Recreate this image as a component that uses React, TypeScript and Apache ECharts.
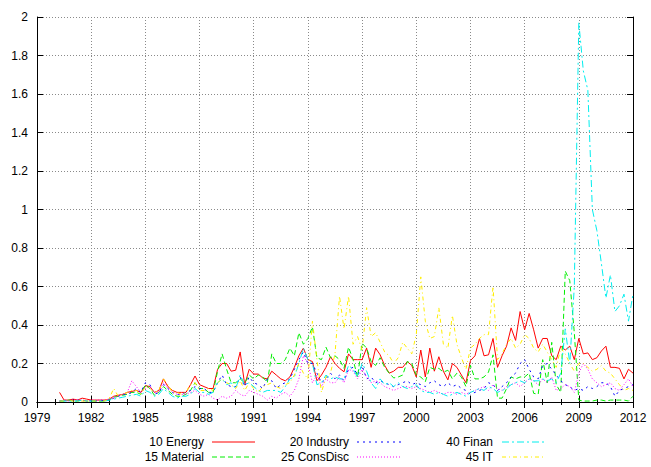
import React, { useEffect, useRef } from "react";
import * as echarts from "echarts";

// Quarterly observations, first point at 1980.25, step 0.25 year
const START_YEAR = 1980.25;
const STEP = 0.25;

const energy = [
  0.05, 0.01, 0.01, 0.015, 0.01, 0.02, 0.015, 0.01, 0.01, 0.01, 0.01, 0.015,
  0.03, 0.035, 0.04, 0.05, 0.055, 0.06, 0.05, 0.085, 0.08, 0.05, 0.06, 0.12,
  0.08, 0.06, 0.05, 0.05, 0.05, 0.09, 0.135, 0.09, 0.08, 0.07, 0.07, 0.17,
  0.2, 0.2, 0.16, 0.165, 0.26, 0.09, 0.17, 0.145, 0.145, 0.125, 0.12, 0.16,
  0.14, 0.12, 0.11, 0.13, 0.18, 0.24, 0.28, 0.22, 0.21, 0.11, 0.14, 0.18,
  0.235, 0.2, 0.175, 0.157, 0.25, 0.22, 0.22, 0.22, 0.28, 0.18, 0.28, 0.245,
  0.19, 0.15, 0.16, 0.18, 0.18, 0.21, 0.19, 0.13, 0.27, 0.13, 0.28, 0.16,
  0.235, 0.16, 0.115, 0.2, 0.18, 0.14, 0.1, 0.215, 0.24, 0.33, 0.24, 0.245,
  0.33, 0.18, 0.24, 0.29, 0.385, 0.32, 0.47, 0.375, 0.46, 0.375, 0.28, 0.33,
  0.33, 0.24, 0.22, 0.29, 0.27, 0.29, 0.22, 0.33, 0.25, 0.255, 0.22, 0.23,
  0.265, 0.29, 0.18, 0.18, 0.175, 0.12, 0.17, 0.15,
];

const material = [
  0.005, 0.005, 0.01, 0.005, 0.005, 0.01, 0.005, 0.005, 0.005, 0.005, 0.005, 0.01,
  0.025, 0.03, 0.035, 0.04, 0.05, 0.05, 0.04, 0.09, 0.07, 0.035, 0.05, 0.08,
  0.06, 0.04, 0.03, 0.03, 0.04, 0.06, 0.1, 0.07, 0.07, 0.05, 0.05, 0.16,
  0.25, 0.17, 0.1, 0.1, 0.12, 0.1, 0.14, 0.12, 0.14, 0.13, 0.1, 0.25,
  0.2, 0.2, 0.22, 0.28, 0.24, 0.36, 0.3, 0.33, 0.39, 0.23, 0.22, 0.285,
  0.23, 0.24, 0.22, 0.175, 0.285, 0.22, 0.13, 0.305, 0.28, 0.21, 0.19, 0.23,
  0.18, 0.15, 0.125, 0.13, 0.14, 0.21, 0.2, 0.14, 0.13, 0.105, 0.18, 0.17,
  0.175, 0.155, 0.165, 0.12, 0.15, 0.13, 0.08, 0.19, 0.12, 0.12, 0.13, 0.155,
  0.245, 0.02, 0.02, 0.07, 0.13, 0.12, 0.13, 0.13, 0.15, 0.045, 0.04, 0.22,
  0.1, 0.31, 0.09, 0.05, 0.68, 0.63, 0.36, 0.01, 0.005, 0.005, 0.005, 0.01,
  0.01, 0.005, 0.01, 0.01, 0.01, 0.01, 0.005, 0.03,
];

const industry = [
  0.005, 0.01, 0.005, 0.01, 0.01, 0.005, 0.01, 0.005, 0.005, 0.01, 0.005, 0.01,
  0.02, 0.03, 0.04, 0.04, 0.05, 0.07, 0.05, 0.1, 0.09, 0.04, 0.05, 0.09,
  0.07, 0.05, 0.04, 0.04, 0.05, 0.06, 0.08, 0.07, 0.07, 0.05, 0.05, 0.1,
  0.14, 0.09, 0.08, 0.08, 0.13, 0.08, 0.13, 0.1, 0.09, 0.07, 0.12, 0.11,
  0.07, 0.09, 0.1, 0.12, 0.17, 0.22, 0.26, 0.2, 0.2, 0.15, 0.1, 0.12,
  0.15, 0.12, 0.14, 0.11, 0.17, 0.18, 0.14, 0.19, 0.12, 0.13, 0.1, 0.11,
  0.1, 0.09, 0.08, 0.09, 0.1, 0.11, 0.09, 0.1, 0.09, 0.08, 0.1, 0.11,
  0.09, 0.08, 0.1, 0.08, 0.09, 0.07, 0.06, 0.04, 0.05, 0.06, 0.07, 0.1,
  0.09, 0.06, 0.08, 0.1, 0.13, 0.15, 0.2, 0.22, 0.17, 0.13, 0.12, 0.19,
  0.2, 0.17, 0.14, 0.11, 0.09, 0.08, 0.06, 0.07, 0.06, 0.08, 0.07, 0.08,
  0.1, 0.1, 0.08, 0.03, 0.06, 0.07, 0.08, 0.09,
];

const consDisc = [
  0.005, 0.01, 0.005, 0.01, 0.01, 0.01, 0.005, 0.01, 0.01, 0.01, 0.01, 0.015,
  0.02, 0.03, 0.04, 0.05, 0.11, 0.08, 0.05, 0.07, 0.08, 0.05, 0.05, 0.1,
  0.07, 0.05, 0.04, 0.04, 0.04, 0.05, 0.06, 0.04, 0.03, 0.04, 0.02, 0.01,
  0.03, 0.02, 0.03, 0.06, 0.04, 0.03, 0.06, 0.05, 0.04, 0.03, 0.01, 0.03,
  0.02, 0.04, 0.05, 0.03, 0.06, 0.12, 0.24, 0.2, 0.1, 0.14, 0.08, 0.12,
  0.1, 0.1, 0.13, 0.1, 0.17, 0.16, 0.12, 0.17, 0.13, 0.1, 0.11, 0.1,
  0.08, 0.07, 0.06, 0.07, 0.08, 0.08, 0.07, 0.08, 0.07, 0.06, 0.05, 0.06,
  0.05, 0.04, 0.05, 0.05, 0.04, 0.05, 0.04, 0.05, 0.06, 0.07, 0.08, 0.06,
  0.09, 0.07, 0.06, 0.08, 0.09, 0.1, 0.08, 0.1, 0.12, 0.11, 0.09, 0.12,
  0.1, 0.13, 0.06, 0.07, 0.09, 0.08, 0.05, 0.15, 0.2, 0.17, 0.12, 0.1,
  0.08, 0.09, 0.1, 0.07, 0.06, 0.09, 0.12, 0.08,
];

const finan = [
  0.005, 0.005, 0.005, 0.005, 0.005, 0.01, 0.005, 0.005, 0.005, 0.005, 0.005, 0.01,
  0.015, 0.02, 0.025, 0.03, 0.035, 0.04, 0.03, 0.06, 0.05, 0.03, 0.04, 0.07,
  0.05, 0.03, 0.02, 0.03, 0.03, 0.04, 0.07, 0.05, 0.05, 0.04, 0.05, 0.1,
  0.12, 0.09, 0.1, 0.07, 0.14, 0.09, 0.1, 0.08, 0.06, 0.05, 0.06, 0.06,
  0.06, 0.05, 0.08, 0.12, 0.13, 0.2, 0.28, 0.22, 0.2, 0.09, 0.1, 0.14,
  0.12, 0.13, 0.12, 0.12, 0.19, 0.17, 0.13, 0.2, 0.16, 0.1, 0.07, 0.12,
  0.09, 0.1, 0.08, 0.1, 0.08, 0.07, 0.08, 0.09, 0.06, 0.05, 0.05, 0.04,
  0.05, 0.04, 0.03, 0.04, 0.05, 0.04, 0.03, 0.05, 0.06, 0.07, 0.06, 0.08,
  0.07, 0.05, 0.06, 0.07, 0.09, 0.1, 0.11, 0.1, 0.12, 0.11, 0.11, 0.12,
  0.11, 0.12, 0.1, 0.15, 0.38, 0.2, 0.6, 1.97, 1.72, 1.62, 1.0, 0.89,
  0.72, 0.54, 0.66, 0.47, 0.5, 0.56, 0.42, 0.56,
];

const it = [
  0.005, 0.005, 0.01, 0.005, 0.005, 0.005, 0.005, 0.005, 0.005, 0.005, 0.005, 0.02,
  0.07, 0.03, 0.04, 0.05, 0.06, 0.06, 0.04, 0.08, 0.07, 0.05, 0.06, 0.12,
  0.09, 0.05, 0.05, 0.04, 0.05, 0.09, 0.1, 0.06, 0.06, 0.07, 0.06, 0.1,
  0.12, 0.1, 0.09, 0.07, 0.11, 0.06, 0.1, 0.07, 0.05, 0.08, 0.09, 0.1,
  0.08, 0.07, 0.09, 0.1, 0.14, 0.2, 0.15, 0.12, 0.42, 0.22, 0.05, 0.13,
  0.15, 0.25, 0.55, 0.38, 0.55, 0.3, 0.34, 0.27, 0.49, 0.34, 0.36, 0.31,
  0.26, 0.24, 0.2, 0.23, 0.31, 0.28, 0.25, 0.35, 0.65, 0.42, 0.33, 0.34,
  0.49, 0.3, 0.28, 0.45, 0.3, 0.23, 0.17, 0.28, 0.3, 0.33, 0.35, 0.35,
  0.6, 0.22, 0.25, 0.3, 0.33, 0.28, 0.3, 0.35, 0.33, 0.28, 0.26, 0.3,
  0.26, 0.22, 0.18, 0.28, 0.25, 0.2, 0.16, 0.2, 0.2, 0.18, 0.16, 0.17,
  0.19, 0.16, 0.15, 0.12, 0.09, 0.06, 0.07, 0.06,
];

const seriesNames = ["10 Energy", "15 Material", "20 Industry", "25 ConsDisc", "40 Finan", "45 IT"];
const seriesValues = [energy, material, industry, consDisc, finan, it];
const seriesColors = ["#ff0000", "#00ee00", "#0000ff", "#ff00ff", "#00eeee", "#ffee00"];
const seriesDash: (string | number[])[] = ["solid", [5, 3], [2, 4], [1, 2], [7, 3, 2, 3], [4, 3, 1, 3]];

const X_MIN = 1979;
const X_MAX = 2012;
const X_INTERVAL = 3;
const Y_MIN = 0;
const Y_MAX = 2;
const Y_INTERVAL = 0.2;

const FONT = '"Liberation Sans", Arial, Helvetica, sans-serif';

export default function App() {
  const ref = useRef<HTMLDivElement>(null);

  useEffect(() => {
    if (!ref.current) return;
    const chart = echarts.init(ref.current, undefined, { renderer: "svg" });

    const gridLine = { show: true, lineStyle: { color: "#8a8a8a", type: [1, 2] as any, width: 1 } };
    const frame = { show: true, lineStyle: { color: "#000", width: 1 } };

    // legend built as graphic (gnuplot style: text then sample line)
    const legendCols = [
      { textRight: 204, x1: 212, x2: 255 },
      { textRight: 349, x1: 357, x2: 401 },
      { textRight: 493, x1: 502, x2: 546 },
    ];
    const legendRows = [442, 457];
    const graphics: any[] = [];
    seriesNames.forEach((name, i) => {
      const col = legendCols[Math.floor(i / 2)];
      const y = legendRows[i % 2];
      graphics.push({
        type: "text",
        x: col.textRight,
        y,
        style: { text: name, fill: "#000", font: `12px ${FONT}`, align: "right", verticalAlign: "middle" },
      });
      const dash = seriesDash[i];
      graphics.push({
        type: "line",
        shape: { x1: col.x1, y1: y, x2: col.x2, y2: y },
        style: { stroke: seriesColors[i], lineWidth: 1, lineDash: dash === "solid" ? null : dash },
      });
    });

    chart.setOption({
      animation: false,
      textStyle: { fontFamily: FONT },
      grid: { left: 37, right: 18, top: 17, bottom: 65, containLabel: false },
      xAxis: [
        {
          type: "value",
          min: X_MIN,
          max: X_MAX,
          interval: X_INTERVAL,
          position: "bottom",
          axisLine: frame,
          axisTick: { show: true, inside: true, length: 6, lineStyle: { color: "#000" } },
          minorTick: { show: true, splitNumber: 3, length: 3, lineStyle: { color: "#000" } },
          axisLabel: { color: "#000", fontSize: 12, margin: 10, fontFamily: FONT, formatter: (v: number) => String(v) },
          splitLine: gridLine,
        },
        {
          type: "value",
          min: X_MIN,
          max: X_MAX,
          interval: X_INTERVAL,
          position: "top",
          axisLine: frame,
          axisTick: { show: true, inside: true, length: 6, lineStyle: { color: "#000" } },
          minorTick: { show: true, splitNumber: 3, length: 3, lineStyle: { color: "#000" } },
          axisLabel: { show: false },
          splitLine: { show: false },
        },
      ],
      yAxis: [
        {
          type: "value",
          min: Y_MIN,
          max: Y_MAX,
          interval: Y_INTERVAL,
          position: "left",
          axisLine: frame,
          axisTick: { show: true, inside: true, length: 6, lineStyle: { color: "#000" } },
          axisLabel: { color: "#000", fontSize: 12, margin: 9, fontFamily: FONT },
          splitLine: gridLine,
        },
        {
          type: "value",
          min: Y_MIN,
          max: Y_MAX,
          interval: Y_INTERVAL,
          position: "right",
          axisLine: frame,
          axisTick: { show: true, inside: true, length: 6, lineStyle: { color: "#000" } },
          axisLabel: { show: false },
          splitLine: { show: false },
        },
      ],
      series: seriesValues.map((vals, i) => ({
        name: seriesNames[i],
        type: "line",
        xAxisIndex: 0,
        yAxisIndex: 0,
        showSymbol: false,
        symbol: "none",
        data: vals.map((v, k) => [START_YEAR + k * STEP, v]),
        lineStyle: { color: seriesColors[i], width: 1, type: seriesDash[i] as any },
        itemStyle: { color: seriesColors[i] },
        emphasis: { disabled: true },
        silent: true,
      })),
      graphic: graphics,
    });

    return () => chart.dispose();
  }, []);

  return (
    <div
      ref={ref}
      style={{ position: "fixed", left: 0, top: 0, width: 651, height: 467, background: "#fff" }}
    />
  );
}
